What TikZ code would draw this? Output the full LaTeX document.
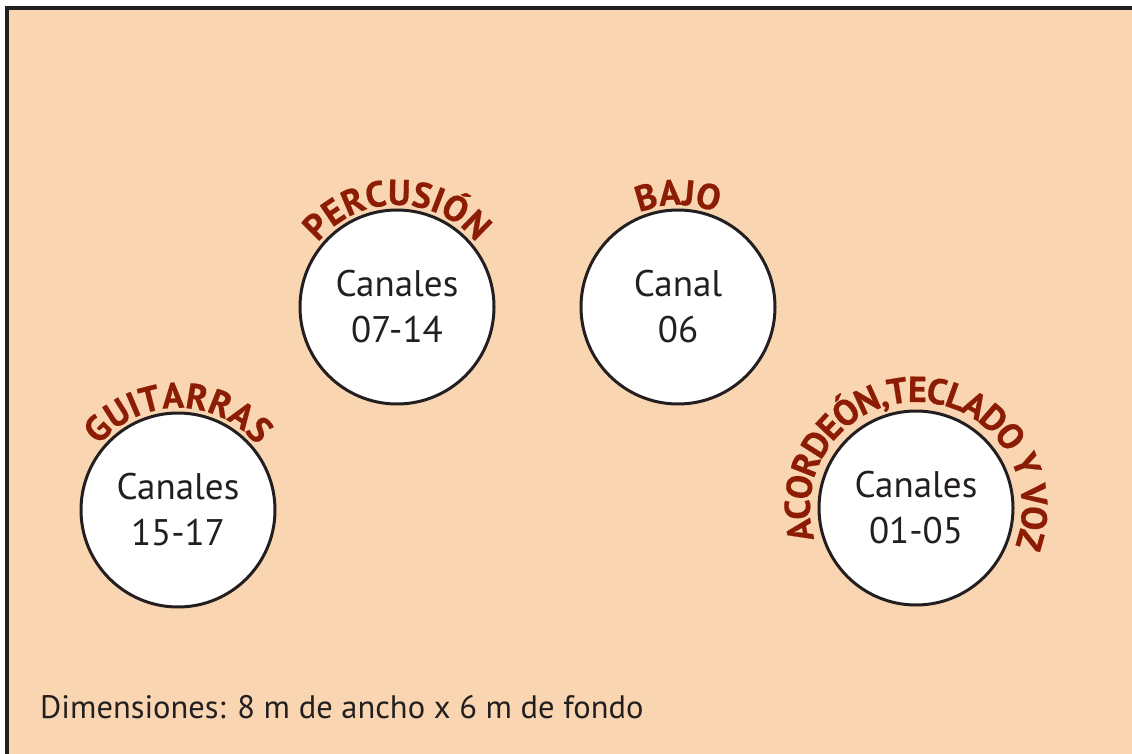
\documentclass[tikz,border=0pt]{standalone}
\usepackage{fontspec}
\setmainfont{PT Sans}
\usetikzlibrary{decorations.text}
\definecolor{peach}{HTML}{F9D6B1}
\definecolor{framec}{HTML}{231F20}
\definecolor{labelred}{HTML}{8C1D04}
\newcommand{\labelfont}{\fontsize{36}{36}\selectfont\bfseries\addfontfeatures{FakeBold=0.6}}
\tikzset{
  zone/.style={circle, draw=framec, fill=white, line width=3pt, minimum size=194pt, inner sep=0pt,
    align=center, text=framec, font=\fontsize{37}{46}\selectfont},
}
\newcommand{\ringtext}[4]{% center, radius, size, text
  \path[decorate, decoration={text along path, text align=center,
    text={|\labelfont\color{labelred}|#4}}]
    ([shift={(270:#2)}]#1.center) arc[start angle=270, end angle=-90, radius=#2];
}
\begin{document}
\begin{tikzpicture}[x=1pt,y=1pt]
\useasboundingbox (0,0) rectangle (1132,-754);
\fill[peach] (7,-8) rectangle (1132,-754);
\draw[framec, line width=4pt] (7,-754) -- (7,-8) -- (1132,-8);
\node[zone] (gui) at (178,-510) {Canales\\15-17};
\node[zone] (per) at (397,-307) {Canales\\07-14};
\node[zone] (baj) at (678,-307) {Canal\\06};
\node[zone] (aco) at (916,-508) {Canales\\01-05};
\ringtext{gui}{102pt}{36}{GUITARRAS}
\ringtext{per}{102pt}{36}{PERCUSIÓN}
\ringtext{baj}{102pt}{36}{BAJO}
\path[decorate, decoration={text effects along path, text={ACORDEÓN,TECLADO Y VOZ},
    text effects/.cd, text along path, fit text to path,
    characters={text=labelred, font=\labelfont, inner sep=0pt}}]
  ([shift={(197:106pt)}]aco.center) arc[start angle=197, end angle=-21, radius=106pt];
\node[anchor=base west, text=framec, font=\fontsize{32.5}{40}\selectfont, inner sep=0pt] (dim) at (40,-718) {Dimensiones: 8 m de ancho x 6 m de fondo};
\end{tikzpicture}
\end{document}
